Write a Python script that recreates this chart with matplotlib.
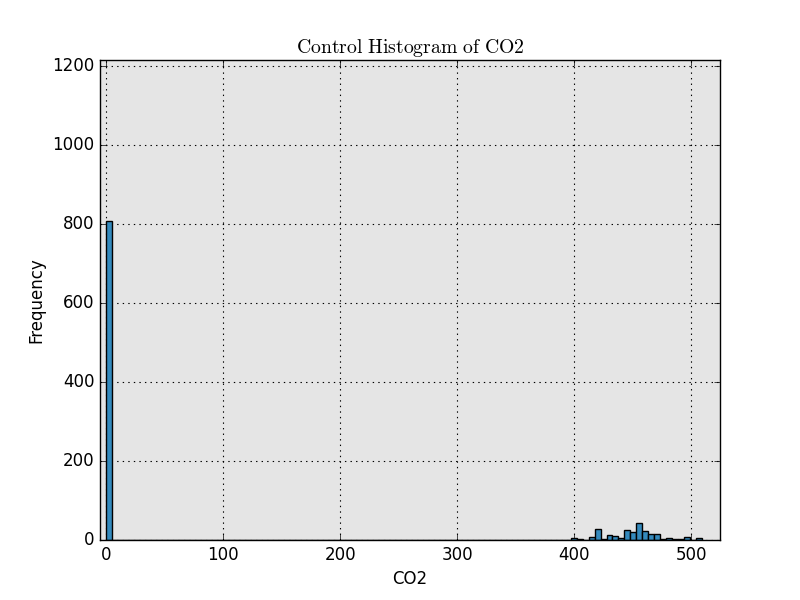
import numpy as np
import matplotlib
matplotlib.use("Agg")
import matplotlib.pyplot as plt

plt.style.use("classic")
plt.rcParams["mathtext.fontset"] = "cm"

# Histogram bins (100 bins from 0 to ~509) and counts
bin_edges = np.linspace(0, 509, 101)
counts = np.zeros(100)
counts[0] = 808
nonzero_bins = [78, 79, 81, 82, 83, 84, 85, 86, 87, 88, 89, 90, 91, 92, 93, 94, 95, 96, 97, 99]
nonzero_counts = [6, 3, 8, 28, 3, 13, 9, 4, 25, 19, 44, 24, 16, 16, 3, 6, 3, 3, 8, 6]
counts[nonzero_bins] = nonzero_counts

x_ticks = [0, 100, 200, 300, 400, 500]
y_ticks = [0, 200, 400, 600, 800, 1000, 1200]

fig = plt.figure(figsize=(8, 6), dpi=100, facecolor="white")
ax = fig.add_subplot(111)
ax.set_facecolor("#e5e5e5")

centers = (bin_edges[:-1] + bin_edges[1:]) / 2
ax.hist(centers, bins=bin_edges, weights=counts, color="#348ABD",
        edgecolor="black", linewidth=1.0)

ax.set_xlim(-5.1, 524.5)
ax.set_ylim(0, 1215)
ax.set_xticks(x_ticks)
ax.set_yticks(y_ticks)
ax.grid(True, color="black", linestyle=":", linewidth=0.8)
ax.set_axisbelow(True)

ax.set_title(r"$\mathrm{Control\ Histogram\ of\ CO2}$", fontsize=14.2)
ax.set_xlabel("CO2", fontsize=12)
ax.set_ylabel("Frequency", fontsize=12)
ax.tick_params(labelsize=12)

fig.savefig("out.png", dpi=100, facecolor="white")
